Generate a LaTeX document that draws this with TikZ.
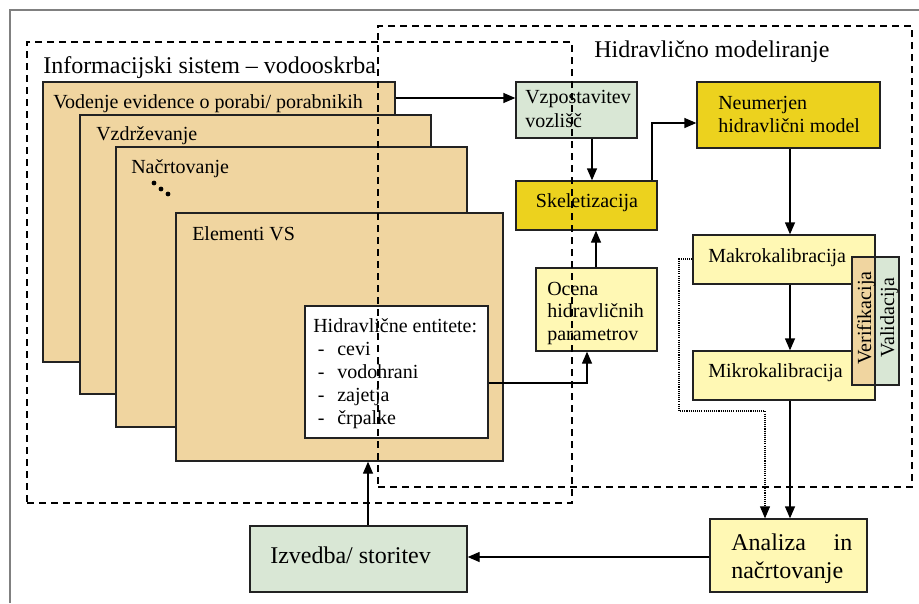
\documentclass[tikz,border=0pt]{standalone}
\usepackage{fontspec}
\setmainfont{Liberation Serif}
\usetikzlibrary{arrows.meta,fit,calc}
\definecolor{tanfill}{HTML}{F0D5A0}
\definecolor{lgreen}{HTML}{D9E7D5}
\definecolor{goldfill}{HTML}{ECD21E}
\definecolor{lyellow}{HTML}{FFF8B4}
\definecolor{edgecol}{HTML}{222222}
\definecolor{framecol}{HTML}{808080}
\tikzset{
  box/.style={draw=edgecol, line width=1pt, inner sep=0pt},
  lbl/.style={anchor=base west, inner sep=0pt, font=\fontsize{15}{17.25}\selectfont},
  big/.style={anchor=base west, inner sep=0pt, font=\fontsize{18}{21}\selectfont},
  arr/.style={line width=1pt, draw=black, -{Triangle[length=9pt,width=7.5pt]}},
  dashbox/.style={draw=black, dash pattern=on 5.25pt off 3.75pt, line width=1pt, inner sep=0pt},
  dotline/.style={line width=0.8pt, dash pattern=on 0.8pt off 0.8pt},
}
\begin{document}
\begin{tikzpicture}[x=0.75pt,y=-0.75pt]
\useasboundingbox (0,0) rectangle (919,603);
% outer frame
\draw[framecol, line width=1.5pt] (10,603) -- (10,10) -- (919,10);

% stacked boxes
\node[box, fill=tanfill, fit={(43,82)(395,362)}] (vod) {};
\node[lbl] (tvod) at (53,108) {Vodenje evidence o porabi/ porabnikih};
\node[box, fill=tanfill, fit={(80,115)(431,394)}] (vzd) {};
\node[lbl] (tvzd) at (96,140) {Vzdrževanje};
\node[box, fill=tanfill, fit={(116,147)(467,427)}] (nac) {};
\node[lbl] (tnac) at (131,173) {Načrtovanje};
\fill[black] (154,183) circle (2.4) (161,189) circle (2.4) (168,194) circle (2.4);
\node[box, fill=tanfill, fit={(176,213)(503,461)}] (ele) {};
\node[lbl] (tele) at (192,240) {Elementi VS};
\node[box, fill=white, fit={(305,306)(488,438)}] (ent) {};
\node[lbl] (tent) at (313,332) {\begin{tabular}[t]{@{}l@{}}Hidravlične entitete:\\
\makebox[18pt][l]{\hspace{3.5pt}-}cevi\\
\makebox[18pt][l]{\hspace{3.5pt}-}vodohrani\\
\makebox[18pt][l]{\hspace{3.5pt}-}zajetja\\
\makebox[18pt][l]{\hspace{3.5pt}-}črpalke\end{tabular}};

% titles
\node[big] (t1) at (43,73) {Informacijski sistem – vodooskrba};
\node[big] (t2) at (594,57) {Hidravlično modeliranje};

% right side boxes
\node[box, fill=lgreen, fit={(516,82)(637,138)}] (vzp) {};
\node[lbl, font=\fontsize{15}{18}\selectfont] (tvzp) at (525,103) {\begin{tabular}[t]{@{}l@{}}Vzpostavitev\\vozlišč\end{tabular}};
\node[box, fill=goldfill, fit={(697,82)(880,148)}] (neu) {};
\node[lbl] (tneu) at (718,109) {\begin{tabular}[t]{@{}l@{}}Neumerjen\\hidravlični model\end{tabular}};
\node[box, fill=goldfill, fit={(516,181)(657,230)}] (ske) {};
\node[lbl, anchor=base] (tske) at (587,207) {Skeletizacija};
\node[box, fill=lyellow, fit={(536,268)(657,351)}] (oce) {};
\node[lbl, font=\fontsize{15}{17}\selectfont] (toce) at (547,295) {\begin{tabular}[t]{@{}l@{}}Ocena\\hidravličnih\\parametrov\end{tabular}};
\node[box, fill=lyellow, fit={(693,235)(875,284)}] (mak) {};
\node[lbl] (tmak) at (708,262) {Makrokalibracija};
\node[box, fill=lyellow, fit={(693,351)(875,400)}] (mik) {};
\node[lbl] (tmik) at (708,377) {Mikrokalibracija};
\node[box, fill=tanfill, fit={(852,257)(875,385)}] (ver) {};
\node[box, fill=lgreen, fit={(875,257)(899,385)}] (val) {};
\node[rotate=90, anchor=base, inner sep=0pt, font=\fontsize{15}{17}\selectfont] (tver) at (871,318) {Verifikacija};
\node[rotate=90, anchor=base, inner sep=0pt, font=\fontsize{15}{17}\selectfont] (tval) at (894,318) {Validacija};
\node[box, fill=lyellow, fit={(710,519)(867,592)}] (ana) {};
\node[big, font=\fontsize{18}{21}\selectfont] (tana) at (731,550) {\begin{tabular}[t]{@{}l@{}}\makebox[90.75pt][s]{Analiza in}\\načrtovanje\end{tabular}};
\node[box, fill=lgreen, fit={(250,526)(467,592)}] (izv) {};
\node[big] (tizv) at (270,563) {Izvedba/ storitev};

% connectors
\draw[arr] (vod.east |- 0,98) -- (vzp.west |- 0,98);
\draw[arr] (vzp.south -| 592,0) -- (ske.north -| 592,0);
\draw[arr] (ske.north -| 652,0) |- (neu.west |- 0,123);
\draw[arr] (neu.south -| 790,0) -- (mak.north -| 790,0);
\draw[arr] (oce.north -| 596,0) -- (ske.south -| 596,0);
\draw[arr] (ent.east |- 0,383) -| (oce.south -| 587,0);
\draw[arr] (mak.south -| 790,0) -- (mik.north -| 790,0);
\draw[arr] (mik.south -| 790,0) -- (ana.north -| 790,0);
\coordinate (d1) at (679,411);
\draw[arr, dotline] (mak.west |- 0,259) -| (d1) -| (ana.north -| 765,0);
\draw[arr] (ana.west |- 0,557) -- (izv.east |- 0,557);
\draw[arr] (izv.north -| 368,0) -- (ele.south -| 368,0);

% dashed group boxes
\node[dashbox, fit={(27,42)(572,503)}] (is) {};
\node[dashbox, fit={(378,26)(912,487)}] (hm) {};
\end{tikzpicture}
\end{document}
